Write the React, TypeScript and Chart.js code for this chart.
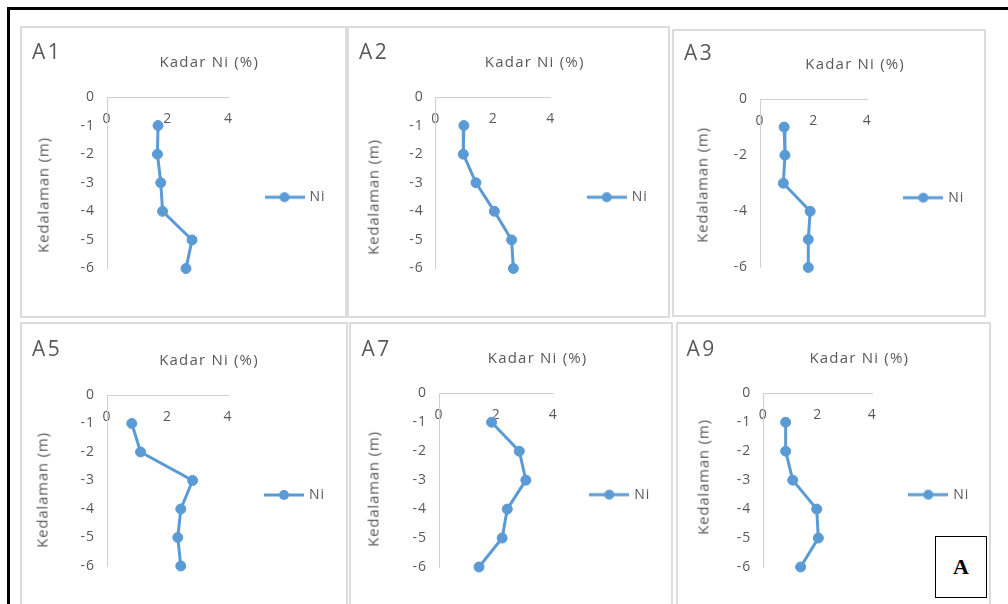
import React, { useEffect, useRef } from "react";
import { Chart, registerables } from "chart.js";

Chart.register(...registerables);

// ---------------- data ----------------
const depths = [-1, -2, -3, -4, -5, -6];
const panelNames = ["A1", "A2", "A3", "A5", "A7", "A9"];
const niA1 = [1.68, 1.66, 1.77, 1.83, 2.8, 2.6];
const niA2 = [0.98, 0.96, 1.4, 2.04, 2.64, 2.7];
const niA3 = [0.9, 0.93, 0.87, 1.87, 1.8, 1.8];
const niA5 = [0.82, 1.11, 2.83, 2.44, 2.34, 2.44];
const niA7 = [1.84, 2.81, 3.04, 2.39, 2.21, 1.4];
const niA9 = [0.82, 0.82, 1.08, 1.96, 2.02, 1.37];
const panelValues = [niA1, niA2, niA3, niA5, niA7, niA9];
const yTickSteps = [1, 1, 2, 1, 1, 1];
const xMin = 0;
const xMax = 4;
const xTickStep = 2;
const yMin = -6;
const yMax = 0;
const seriesLabel = "Ni";
const xTitle = "Kadar Ni (%)";
const yTitle = "Kedalaman (m)";
const figureTag = "A";

// ---------------- layout (page px) ----------------
// panel box: [left, top, width, height]
const panelBoxes: number[][] = [
  [20, 26, 327, 292],
  [347, 26, 323, 292],
  [672, 29, 314, 288],
  [20, 322, 328, 292],
  [349, 322, 324, 292],
  [676, 322, 315, 292],
];
// plot area: [left, right, top, bottom]
const plotAreas: number[][] = [
  [107, 228.5, 97, 268.5],
  [435.7, 550.7, 97, 268.5],
  [760, 867.3, 99, 267.5],
  [107, 228, 395, 566],
  [439, 553.3, 393.3, 567],
  [763.3, 872.3, 393.3, 567],
];
// panel label: [left, capCenterY]
const labelPos: number[][] = [
  [32, 50.5],
  [359, 50.5],
  [684, 51.5],
  [32, 347.5],
  [361.5, 347.5],
  [686.5, 347.5],
];
// y title center [x, y]
const yTitlePos: number[][] = [
  [42.5, 195],
  [373, 197],
  [702, 185],
  [42, 490],
  [373.3, 489],
  [703.3, 476.7],
];

const BLUE = "#5B9BD5";
const TXT = "#595959";
const AXIS = "#D0D0D0";
const PANEL_BORDER = "#DCDCDC";
const FONT = "'Open Sans', 'Noto Sans', sans-serif";

const Y_W = 40;
const X_H = 10;
const LEG_W = 100;

function makeLegendIcon(): HTMLCanvasElement {
  const c = document.createElement("canvas");
  c.width = 40;
  c.height = 12;
  const g = c.getContext("2d")!;
  g.strokeStyle = BLUE;
  g.lineWidth = 3;
  g.beginPath();
  g.moveTo(0, 6);
  g.lineTo(40, 6);
  g.stroke();
  g.fillStyle = BLUE;
  g.beginPath();
  g.arc(20, 6, 5, 0, Math.PI * 2);
  g.fill();
  return c;
}

const letterSpacingPlugin = {
  id: "letterSpacing",
  beforeDraw(chart: any) {
    try {
      chart.ctx.letterSpacing = "1px";
    } catch (e) {}
  },
};

function Panel({ idx }: { idx: number }) {
  const ref = useRef<HTMLCanvasElement>(null);
  const [pl, pt, pw, ph] = panelBoxes[idx];
  const [al, ar, at, ab] = plotAreas[idx];

  useEffect(() => {
    const canvas = ref.current!;
    const values = panelValues[idx];
    const chart = new Chart(canvas, {
      type: "line",
      data: {
        datasets: [
          {
            label: seriesLabel,
            data: depths.map((d, i) => ({ x: values[i], y: d })),
            borderColor: BLUE,
            backgroundColor: BLUE,
            borderWidth: 3,
            pointRadius: 5,
            pointBorderWidth: 1,
            pointBackgroundColor: BLUE,
            pointBorderColor: BLUE,
            tension: 0,
            fill: false,
            clip: false as any,
          },
        ],
      },
      options: {
        responsive: false,
        animation: false,
        events: [],
        layout: {
          padding: {
            left: al - pl - Y_W,
            top: at - pt - X_H,
            right: pl + pw - ar - LEG_W,
            bottom: pt + ph - ab,
          },
        },
        scales: {
          x: {
            type: "linear",
            position: "top",
            min: xMin,
            max: xMax,
            afterFit: (s: any) => {
              s.height = X_H;
            },
            grid: { display: false, drawTicks: false },
            border: { display: true, color: AXIS, width: 1 },
            ticks: {
              stepSize: xTickStep,
              mirror: true,
              padding: 13.6,
              color: TXT,
              font: { family: FONT, size: 14 },
              maxRotation: 0,
            },
          },
          y: {
            type: "linear",
            position: "left",
            min: yMin,
            max: yMax,
            afterFit: (s: any) => {
              s.width = Y_W;
            },
            grid: { display: false, drawTicks: false },
            border: { display: true, color: AXIS, width: 1 },
            ticks: {
              stepSize: yTickSteps[idx],
              padding: 12,
              color: TXT,
              font: { family: FONT, size: 14 },
            },
          },
        },
        plugins: {
          legend: {
            position: "right",
            fullSize: false,
            maxWidth: LEG_W,
            title: {
              display: true,
              text: "",
              font: { size: 10 },
              padding: { top: 8.5, bottom: 8.5 },
            },
            labels: {
              usePointStyle: true,
              pointStyle: makeLegendIcon() as any,
              pointStyleWidth: 36,
              padding: 38,
              color: TXT,
              font: { family: FONT, size: 14 },
            },
          },
          tooltip: { enabled: false },
          title: { display: false },
        },
      } as any,
      plugins: [letterSpacingPlugin as any],
    });
    return () => chart.destroy();
  }, [idx]);

  const [lx, ly] = labelPos[idx];
  const [tx, ty] = yTitlePos[idx];
  const xTitleX = (al + ar) / 2 + 41.5;
  const xTitleY = at - 36;

  return (
    <>
      <div
        style={{
          position: "absolute",
          left: pl,
          top: pt,
          width: pw,
          height: ph,
          border: `2px solid ${PANEL_BORDER}`,
          boxSizing: "border-box",
          background: "#fff",
        }}
      />
      <canvas
        ref={ref}
        width={pw}
        height={ph}
        style={{ position: "absolute", left: pl, top: pt, width: pw, height: ph }}
      />
      <span
        style={{
          position: "absolute",
          left: lx,
          top: ly,
          transform: "translateY(-50%)",
          fontSize: 21,
          lineHeight: 1,
          letterSpacing: 2.5,
          color: TXT,
          whiteSpace: "nowrap",
        }}
      >
        {panelNames[idx]}
      </span>
      <span
        style={{
          position: "absolute",
          left: xTitleX,
          top: xTitleY,
          transform: "translate(-50%, -50%)",
          fontSize: 15,
          lineHeight: 1,
          letterSpacing: 1.2,
          color: TXT,
          whiteSpace: "nowrap",
        }}
      >
        {xTitle}
      </span>
      <span
        style={{
          position: "absolute",
          left: tx,
          top: ty,
          transform: "translate(-50%, -50%) rotate(-90deg)",
          fontSize: 15,
          lineHeight: 1,
          letterSpacing: 0.8,
          color: TXT,
          whiteSpace: "nowrap",
        }}
      >
        {yTitle}
      </span>
    </>
  );
}

export default function App() {
  return (
    <div
      style={{
        position: "absolute",
        left: 0,
        top: 0,
        width: 1008,
        height: 604,
        overflow: "hidden",
        background: "#fff",
        fontFamily: FONT,
      }}
    >
      <div
        style={{
          position: "absolute",
          left: 7,
          top: 7,
          width: 1100,
          height: 700,
          borderTop: "3px solid #000",
          borderLeft: "3px solid #000",
        }}
      />
      {panelNames.map((_, i) => (
        <Panel key={i} idx={i} />
      ))}
      <div
        style={{
          position: "absolute",
          left: 935,
          top: 536,
          width: 52,
          height: 62,
          border: "1.5px solid #000",
          boxSizing: "border-box",
          background: "#fff",
          display: "flex",
          alignItems: "center",
          justifyContent: "center",
          fontFamily: "'Liberation Serif', 'Times New Roman', serif",
          fontWeight: 700,
          fontSize: 22,
          color: "#000",
        }}
      >
        {figureTag}
      </div>
    </div>
  );
}
